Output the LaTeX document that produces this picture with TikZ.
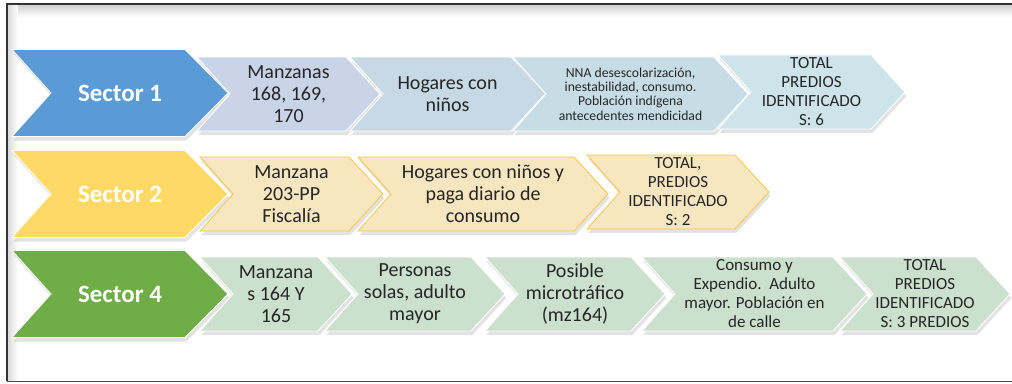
\documentclass[tikz,border=0pt]{standalone}
\usepackage{fontspec}
\setmainfont{Carlito}
\usepackage{xcolor}
\usetikzlibrary{shadows}

\definecolor{secblue}{HTML}{5B9BD5}
\definecolor{secgold}{HTML}{FFD966}
\definecolor{secgreen}{HTML}{70AD47}
\definecolor{bluea}{HTML}{CAD4E8}
\definecolor{blueb}{HTML}{C6D9E5}
\definecolor{bluec}{HTML}{C6DDE6}
\definecolor{blued}{HTML}{CDE4EA}
\definecolor{golda}{HTML}{F8E6C0}
\definecolor{goldline}{HTML}{F4C64A}
\definecolor{greena}{HTML}{CCE0CE}
\definecolor{txtgray}{HTML}{262626}

\tikzset{
  chev/.style={drop shadow={opacity=0.22,shadow xshift=1.5pt,shadow yshift=-4pt}},
  sectortxt/.style={text=white,font=\fontsize{25}{28}\selectfont\bfseries,align=center},
  boxtxt/.style={text=txtgray,font=\fontsize{20}{22}\selectfont,align=center,inner sep=0pt},
  midtxt/.style={boxtxt,font=\fontsize{17}{19}\selectfont},
  smalltxt/.style={boxtxt,font=\fontsize{13.7}{14.3}\selectfont},
  bluebox/.style={chev,fill=#1,draw=white,line width=0.8pt},
  goldbox/.style={chev,fill=golda,draw=goldline,line width=0.8pt},
  greenbox/.style={chev,fill=greena,draw=white,line width=0.8pt}
}

% big sector chevron: name, colour, left, tip, mid y, text
\newcommand{\bigchev}[6]{%
  \path[chev,fill=#2,draw=white,line width=0.8pt]
    (#3,#5-43.5) -- (#4-43,#5-43.5) -- (#4,#5) -- (#4-43,#5+43.5)
    -- (#3,#5+43.5) -- (#3+39,#5) -- cycle;
  \node[sectortxt] (#1) at ({(#3+#4)/2},#5) {#6};}

% small chevron: name, box style, text style, left, tip, mid y, text
\newcommand{\smallchev}[7]{%
  \path[#2]
    (#4,#6-37) -- (#5-34,#6-37) -- (#5,#6) -- (#5-34,#6+37)
    -- (#4,#6+37) -- (#4+33,#6) -- cycle;
  \node[#3] (#1) at ({(#4+#5)/2},#6) {#7};}

\begin{document}
\begin{tikzpicture}[x=1pt,y=-1pt]
\useasboundingbox (0,0) rectangle (1012,383);

% frame
\shade[top color=black!18,bottom color=white] (8,5) rectangle (1012,17);
\shade[left color=black!14,right color=white] (8,5) rectangle (18,380);
\draw[black!80,line width=1.2pt] (1012,4) -- (7,4) -- (7,381);
\draw[black!70,line width=1pt] (7,381) -- (1012,381);

% Sector 1
\bigchev{s1}{secblue}{12}{228}{93}{Sector 1}
\smallchev{s1a}{bluebox=bluea}{boxtxt}{197}{380}{94}{Manzanas\\168, 169,\\170}
\smallchev{s1b}{bluebox=blueb}{boxtxt}{350}{545}{94}{Hogares con\\niños}
\smallchev{s1c}{bluebox=bluec}{smalltxt}{513}{748}{94}{NNA desescolarización,\\inestabilidad, consumo.\\Población indígena\\antecedentes mendicidad}
\smallchev{s1d}{bluebox=blued}{midtxt}{718}{905}{92}{TOTAL\\PREDIOS\\IDENTIFICADO\\S: 6}

% Sector 2
\bigchev{s2}{secgold}{12}{228}{194}{Sector 2}
\smallchev{s2a}{goldbox}{boxtxt}{200}{383}{194}{Manzana\\203-PP\\Fiscalía}
\smallchev{s2b}{goldbox}{boxtxt}{358}{608}{194}{Hogares con niños y\\paga diario de\\consumo}
\smallchev{s2c}{goldbox}{midtxt}{587}{769}{192}{TOTAL,\\PREDIOS\\IDENTIFICADO\\S: 2}

% Sector 4
\bigchev{s4}{secgreen}{12}{228}{294}{Sector 4}
\smallchev{s4a}{greenbox}{boxtxt}{200}{352}{294}{Manzana\\s 164 Y\\165}
\smallchev{s4b}{greenbox}{boxtxt}{325}{505}{294}{Personas\\solas, adulto\\mayor}
\smallchev{s4c}{greenbox}{boxtxt}{485}{665}{294}{Posible\\microtráfico\\(mz164)}
\smallchev{s4d}{greenbox}{midtxt}{642}{867}{294}{Consumo y\\Expendio.\ \ Adulto\\mayor. Población en\\de calle}
\smallchev{s4e}{greenbox}{midtxt}{840}{1010}{294}{TOTAL\\PREDIOS\\IDENTIFICADO\\S: 3 PREDIOS}
\end{tikzpicture}
\end{document}
